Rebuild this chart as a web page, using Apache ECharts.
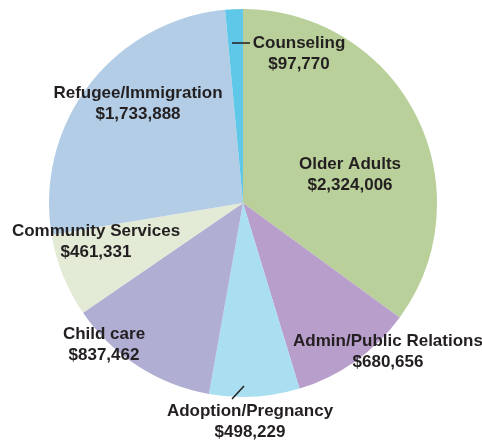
<!DOCTYPE html>
<html><head><meta charset="utf-8">
<script src="https://cdn.jsdelivr.net/npm/echarts@6/dist/echarts.min.js"></script>
<style>html,body{margin:0;padding:0;background:#fff}#c{width:482px;height:441px}</style>
</head><body><div id="c"></div>
<script>
const categories = ["Older Adults","Admin/Public Relations","Adoption/Pregnancy","Child care","Community Services","Refugee/Immigration","Counseling"];
const values = [2324006,680656,498229,837462,461331,1733888,97770];
const colors = ["#b9d09a","#b89ecb","#a9dff0","#b0afd3","#e3ead6","#b3cde6","#5fc8e8"];

// label anchor positions (layout only)
const labelPos = {
  "Older Adults":[350,175],
  "Admin/Public Relations":[388,352],
  "Adoption/Pregnancy":[250,422],
  "Child care":[104,345],
  "Community Services":[96,242],
  "Refugee/Immigration":[138,104],
  "Counseling":[299,54]
};
const linePts = {
  "Counseling":[[232,43],[241,43],[250,43]],
  "Adoption/Pregnancy":[[244,386],[238,392.5],[232,399]]
};

const chart = echarts.init(document.getElementById('c'));
const sliceData = categories.map((n,i)=>({name:n, value:values[i], itemStyle:{color:colors[i]}}));
const labelData = categories.map((n,i)=>({
  name:n, value:values[i], itemStyle:{color:'rgba(0,0,0,0)'},
  labelLine:{show: !!linePts[n]}
}));
const common = {type:'pie', center:[243,203], radius:[0,194], startAngle:90, clockwise:true, avoidLabelOverlap:false, silent:true};
chart.setOption({
  animation:false,
  series:[
    Object.assign({}, common, {z:2, data:sliceData, label:{show:false}, labelLine:{show:false}, itemStyle:{borderWidth:0}}),
    Object.assign({}, common, {
      z:5, data:labelData, itemStyle:{borderWidth:0},
      label:{
        show:true, position:'outside', overflow:'none', alignTo:'none',
        formatter:p=>p.name+'\n$'+p.value.toLocaleString('en-US'),
        fontFamily:'Liberation Sans, Arial, sans-serif',
        fontWeight:'bold', fontSize:17, lineHeight:21, color:'#231f20',
        align:'center', letterSpacing:-0.4
      },
      labelLine:{showAbove:true, lineStyle:{color:'#231f20',width:1.5}, length:5, length2:5},
      labelLayout:function(p){
        const n = categories[p.dataIndex];
        const pos = labelPos[n];
        const r = {x:pos[0], y:pos[1], align:'center', verticalAlign:'middle', hideOverlap:false};
        if (linePts[n]) r.labelLinePoints = linePts[n];
        return r;
      }
    })
  ]
});
</script></body></html>
